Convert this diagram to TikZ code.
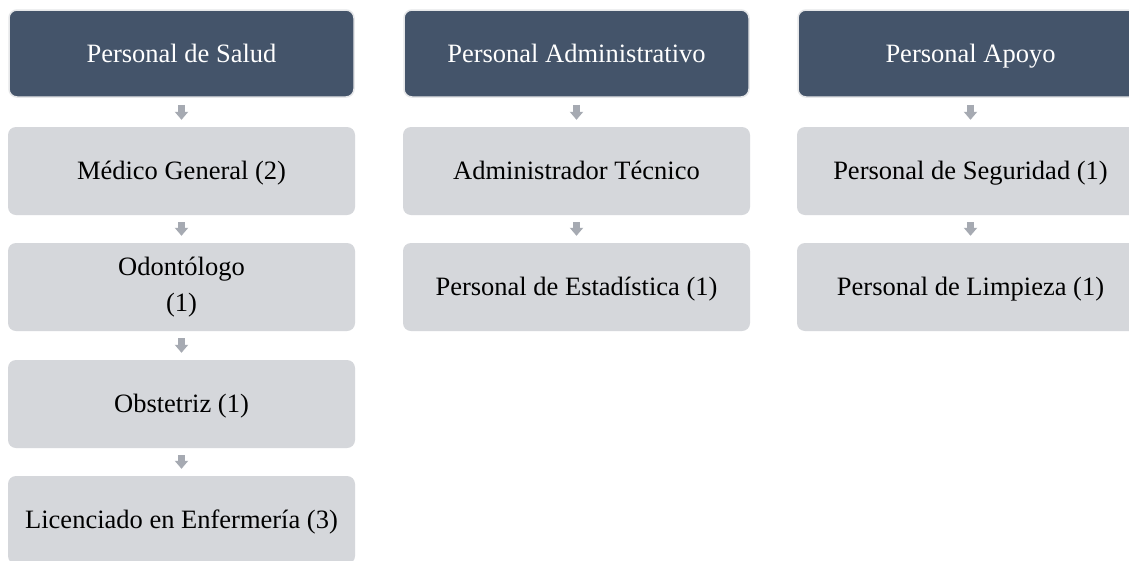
\documentclass[tikz,border=0pt]{standalone}
\usepackage{fontspec}
\setmainfont{Liberation Serif}
\usetikzlibrary{arrows.meta}
\definecolor{headfill}{HTML}{44546A}
\definecolor{headline}{HTML}{E6E7E9}
\definecolor{boxfill}{HTML}{D5D7DB}
\definecolor{arrowcol}{HTML}{A6AAB2}
\tikzset{
  basebox/.style={rectangle, rounded corners=8pt, inner sep=0pt,
    font=\fontsize{26.5}{36}\selectfont, align=center},
  oneline/.style={text height=23pt, text depth=6pt},
  headbox/.style={basebox, oneline, fill=headfill, draw=headline, line width=1.5pt,
    minimum width=345pt, minimum height=87pt, text=white},
  itemboxml/.style={basebox, fill=boxfill, draw=none,
    minimum width=347pt, minimum height=88pt, text=black},
  itembox/.style={itemboxml, oneline},
  downarrow/.style={draw=arrowcol, line width=7pt, shorten <=7pt, shorten >=7pt,
    -{Triangle[width=13pt,length=8pt]}}
}
\begin{document}
\begin{tikzpicture}[x=1pt,y=-1pt]
\useasboundingbox[fill=white] (0,0) rectangle (1129,560);
% column 1
\node[headbox] (h1) at (181.5,53.5) {Personal de Salud};
\node[itembox] (a1) at (181.5,171) {Médico General (2)};
\node[itemboxml] (a2) at (181.5,287) {Odontólogo\\(1)};
\node[itembox] (a3) at (181.5,404) {Obstetriz (1)};
\node[itembox] (a4) at (181.5,520) {Licenciado en Enfermería (3)};
% column 2
\node[headbox] (h2) at (576.5,53.5) {Personal Administrativo};
\node[itembox] (b1) at (576.5,171) {Administrador Técnico};
\node[itembox] (b2) at (576.5,287) {Personal de Estadística (1)};
% column 3
\node[headbox] (h3) at (970.5,53.5) {Personal Apoyo};
\node[itembox] (c1) at (970.5,171) {Personal de Seguridad (1)};
\node[itembox] (c2) at (970.5,287) {Personal de Limpieza (1)};
% arrows
\draw[downarrow] (h1.south) -- (a1.north);
\draw[downarrow] (a1.south) -- (a2.north);
\draw[downarrow] (a2.south) -- (a3.north);
\draw[downarrow] (a3.south) -- (a4.north);
\draw[downarrow] (h2.south) -- (b1.north);
\draw[downarrow] (b1.south) -- (b2.north);
\draw[downarrow] (h3.south) -- (c1.north);
\draw[downarrow] (c1.south) -- (c2.north);
\end{tikzpicture}
\end{document}
